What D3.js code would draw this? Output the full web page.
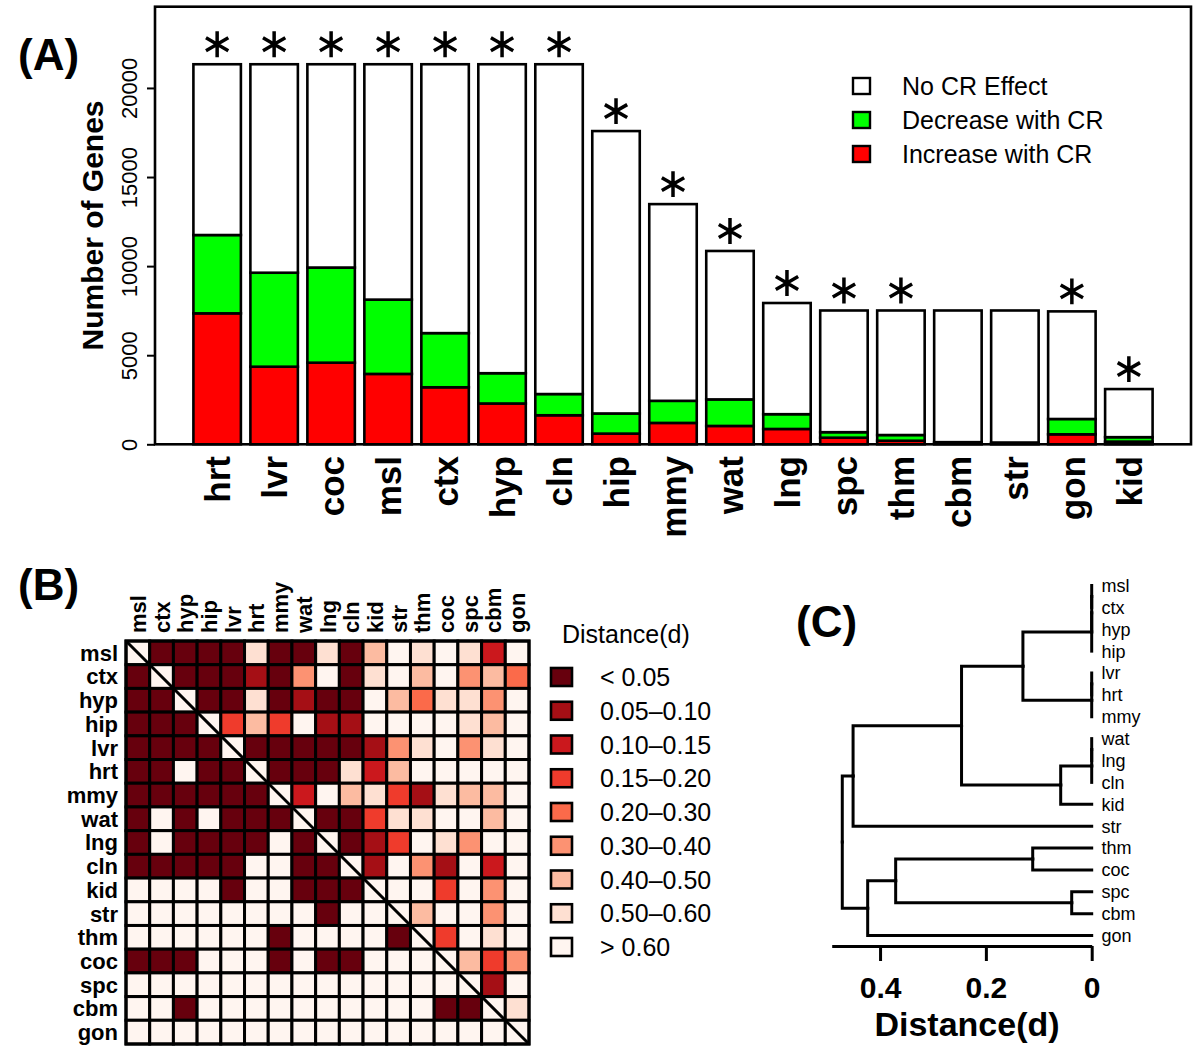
<!DOCTYPE html>
<html><head><meta charset="utf-8">
<script src="https://cdn.jsdelivr.net/npm/d3@7"></script>
<style>
body{margin:0;background:#fff}
svg{display:block}
text{font-family:"Liberation Sans",Arial,Helvetica,sans-serif;fill:#000}
</style>
</head><body>
<svg id="c" width="1200" height="1059"></svg>
<script>
// ---------------- Panel A data ----------------
const barCats = ["hrt","lvr","coc","msl","ctx","hyp","cln","hip","mmy","wat","lng","spc","thm","cbm","str","gon","kid"];
const increaseCR = [7350,4355,4580,3950,3200,2290,1630,600,1200,1030,860,370,200,40,40,560,150];
const decreaseCR = [4395,5275,5340,4170,3040,1700,1190,1130,1240,1490,830,310,320,80,60,860,250];
const noEffectCR = [9585,11700,11410,13210,15090,17340,18510,15850,11040,8330,6240,6830,6990,7390,7410,6040,2700];
const significant = [1,1,1,1,1,1,1,1,1,1,1,1,1,0,0,1,1];
const yTicksA = [0,5000,10000,15000,20000];
const seriesKeys = ["inc","dec","none"];
const seriesNames = ["Increase with CR","Decrease with CR","No CR Effect"];
const seriesColors = ["#FF0000","#00FF00","#FFFFFF"];

// ---------------- Panel B data ----------------
const tissues = ["msl","ctx","hyp","hip","lvr","hrt","mmy","wat","lng","cln","kid","str","thm","coc","spc","cbm","gon"];
// distance bin index per cell (0: <0.05 ... 8: >0.60)
const distBins = [
  [8,0,0,0,0,7,0,0,7,0,6,8,7,8,7,2,8],
  [0,8,0,0,0,1,0,5,8,0,7,8,6,8,5,6,4],
  [0,0,8,0,0,7,0,1,0,0,8,6,4,7,7,5,8],
  [0,0,0,8,3,6,3,8,1,1,8,8,8,8,7,6,8],
  [0,0,0,0,8,0,0,0,0,0,1,5,7,8,5,7,8],
  [0,0,8,0,0,8,0,0,0,7,2,6,8,8,8,8,8],
  [0,0,0,0,0,0,8,2,8,6,7,3,1,7,6,6,8],
  [0,8,0,8,0,0,0,8,0,0,3,7,7,8,8,6,8],
  [0,8,0,0,0,0,8,0,8,0,1,3,8,7,5,8,8],
  [0,0,0,0,0,8,8,0,0,8,1,8,5,1,8,2,8],
  [8,8,8,8,0,8,8,0,0,0,8,8,8,3,8,5,8],
  [8,8,8,8,8,8,8,8,0,8,8,8,6,8,8,5,8],
  [8,8,8,8,8,8,0,8,8,8,8,0,8,3,8,7,8],
  [0,0,0,8,8,8,0,8,0,0,8,8,8,8,6,3,5],
  [8,8,8,8,8,8,8,8,8,8,8,8,8,8,8,1,8],
  [8,8,0,8,8,8,8,8,8,8,8,8,8,0,0,8,7],
  [8,8,8,8,8,8,8,8,8,8,8,8,8,8,8,8,8]
];
const binColors = ["#67000D","#A50F15","#CB181D","#EF3B2C","#FB6A4A","#FC9272","#FCBBA1","#FEE0D2","#FFF5F0"];
const binLabels = ["< 0.05","0.05\u20130.10","0.10\u20130.15","0.15\u20130.20","0.20\u20130.30","0.30\u20130.40","0.40\u20130.50","0.50\u20130.60","> 0.60"];

// ---------------- Panel C data ----------------
const dendroTree = {h:0.4714, children:[
  {h:0.451, children:[
    {h:0.246, children:[
      {h:0.130, children:[
        {h:0, children:[{h:0, children:[{h:0, children:[{name:"msl"},{name:"ctx"}]},{name:"hyp"}]},{name:"hip"}]},
        {h:0, children:[{h:0, children:[{name:"lvr"},{name:"hrt"}]},{name:"mmy"}]}
      ]},
      {h:0.0586, children:[
        {h:0, children:[{h:0, children:[{name:"wat"},{name:"lng"}]},{name:"cln"}]},
        {name:"kid"}
      ]}
    ]},
    {name:"str"}
  ]},
  {h:0.4234, children:[
    {h:0.3705, children:[
      {h:0.1115, children:[{name:"thm"},{name:"coc"}]},
      {h:0.0378, children:[{name:"spc"},{name:"cbm"}]}
    ]},
    {name:"gon"}
  ]}
]};
const dendroTicks = [0, 0.2, 0.4];

const svg = d3.select("#c");

// ================= Panel A =================
const A = svg.append("g");
const xA = d3.scaleBand().domain(barCats).range([155,1191]).paddingInner(0.2/1.2).paddingOuter(0.674);
const yA = d3.scaleLinear().domain([0,24560]).range([444.3,6.7]);
const rowsA = barCats.map((c,i)=>({cat:c, inc:increaseCR[i], dec:decreaseCR[i], none:noEffectCR[i]}));
const stacked = d3.stack().keys(seriesKeys)(rowsA);
stacked.forEach((s,si)=>{
  A.append("g").selectAll("rect").data(s).join("rect")
    .attr("x", d=>xA(d.data.cat))
    .attr("width", xA.bandwidth())
    .attr("y", d=>yA(d[1]))
    .attr("height", d=>Math.max(0, yA(d[0])-yA(d[1])))
    .attr("fill", seriesColors[si])
    .attr("stroke","#000").attr("stroke-width",2.6);
});
// significance stars
A.append("g").selectAll("path").data(rowsA.filter((d,i)=>significant[i])).join("path")
  .attr("d", d3.symbol(d3.symbolAsterisk).size(470))
  .attr("transform", d=>`translate(${xA(d.cat)+xA.bandwidth()/2},${yA(d.inc+d.dec+d.none)-20})`)
  .attr("fill","none").attr("stroke","#000").attr("stroke-width",3.5);
// frame
A.append("rect").attr("x",155).attr("y",6.7).attr("width",1036).attr("height",437.6)
  .attr("fill","none").attr("stroke","#000").attr("stroke-width",2.6);
// y axis
const axA = A.append("g").attr("transform","translate(155,0)")
  .call(d3.axisLeft(yA).tickValues(yTicksA).tickSize(8).tickFormat(d3.format("d")));
axA.select(".domain").remove();
axA.selectAll(".tick line").attr("stroke","#000").attr("stroke-width",2);
axA.selectAll(".tick text").attr("x",null).attr("dy",null)
  .attr("transform","translate(-18,0) rotate(-90)").attr("text-anchor","middle")
  .style("font-family","'Liberation Sans',Arial,sans-serif").style("font-size","22px");
// x labels
A.append("g").selectAll("text").data(barCats).join("text")
  .attr("transform", d=>`translate(${xA(d)+xA.bandwidth()/2+13},456) rotate(-90)`)
  .attr("text-anchor","end").style("font-size","35px").style("font-weight","bold").text(d=>d);
// axis title
A.append("text").attr("transform","translate(103,225.5) rotate(-90)").attr("text-anchor","middle")
  .style("font-size","30px").style("font-weight","bold").text("Number of Genes");
A.append("text").attr("x",18).attr("y",70).style("font-size","44px").style("font-weight","bold").text("(A)");
// legend A
const legA = [2,1,0];
legA.forEach((si,k)=>{
  const cy = 86 + k*34;
  A.append("rect").attr("x",853).attr("y",cy-8).attr("width",17).attr("height",16)
    .attr("fill",seriesColors[si]).attr("stroke","#000").attr("stroke-width",2.4);
  A.append("text").attr("x",902).attr("y",cy).attr("dy","0.36em").style("font-size","25px").text(seriesNames[si]);
});

// ================= Panel B =================
const B = svg.append("g");
const xB = d3.scaleBand().domain(tissues).range([126,529]);
const yB = d3.scaleBand().domain(tissues).range([641,1044]);
const cells = [];
distBins.forEach((row,ri)=>row.forEach((v,ci)=>cells.push({r:tissues[ri], c:tissues[ci], v})));
B.append("g").selectAll("rect").data(cells).join("rect")
  .attr("x", d=>xB(d.c)).attr("y", d=>yB(d.r))
  .attr("width", xB.bandwidth()).attr("height", yB.bandwidth())
  .attr("fill", d=>binColors[d.v]).attr("stroke","#000").attr("stroke-width",3);
B.append("rect").attr("x",126).attr("y",641).attr("width",403).attr("height",403)
  .attr("fill","none").attr("stroke","#000").attr("stroke-width",3);
B.append("line").attr("x1",126).attr("y1",641).attr("x2",529).attr("y2",1044)
  .attr("stroke","#000").attr("stroke-width",3);
B.append("g").selectAll("text").data(tissues).join("text")
  .attr("x",118).attr("y", d=>yB(d)+yB.bandwidth()/2).attr("dy","0.36em")
  .attr("text-anchor","end").style("font-size","22px").style("font-weight","bold").text(d=>d);
B.append("g").selectAll("text").data(tissues).join("text")
  .attr("transform", d=>`translate(${xB(d)+xB.bandwidth()/2+8},633) rotate(-90)`)
  .attr("text-anchor","start").style("font-size","22px").style("font-weight","bold").text(d=>d);
B.append("text").attr("x",18).attr("y",600).style("font-size","44px").style("font-weight","bold").text("(B)");
// legend B
B.append("text").attr("x",562).attr("y",643).style("font-size","25px").text("Distance(d)");
binLabels.forEach((lab,i)=>{
  const cy = 677 + i*33.75;
  B.append("rect").attr("x",551).attr("y",cy-9).attr("width",21).attr("height",18)
    .attr("fill",binColors[i]).attr("stroke","#000").attr("stroke-width",2.6);
  B.append("text").attr("x",600).attr("y",cy).attr("dy","0.36em").style("font-size","25px").text(lab);
});

// ================= Panel C =================
const C = svg.append("g");
const xC = d3.scaleLinear().domain([0,0.4914]).range([1091.7,831.7]);
const root = d3.hierarchy(dendroTree);
const leafNames = root.leaves().map(d=>d.data.name);
const yLeaf = d3.scalePoint().domain(leafNames).range([585.5,935.5]);
root.eachAfter(n=>{
  n.py = n.children ? d3.mean(n.children, c=>c.py) : yLeaf(n.data.name);
  n.px = xC(n.data.h || 0);
});
C.append("g").selectAll("path").data(root.links()).join("path")
  .attr("d", l=>`M${l.target.px},${l.target.py}H${l.source.px}V${l.source.py}`)
  .attr("fill","none").attr("stroke","#000").attr("stroke-width",3).attr("stroke-linecap","square");
C.append("g").selectAll("text").data(root.leaves()).join("text")
  .attr("x",1101.5).attr("y", d=>d.py).attr("dy","0.36em").style("font-size","18px").text(d=>d.data.name);
const axC = C.append("g").attr("transform","translate(0,946)")
  .call(d3.axisBottom(xC).tickValues(dendroTicks).tickSize(15).tickSizeOuter(0).tickFormat(d=>d===0?"0":d3.format(".1f")(d)));
axC.select(".domain").attr("stroke","#000").attr("stroke-width",3);
axC.selectAll(".tick line").attr("stroke","#000").attr("stroke-width",3);
axC.selectAll(".tick text").attr("y",52).attr("dy",null)
  .style("font-family","'Liberation Sans',Arial,sans-serif").style("font-size","30px").style("font-weight","bold");
C.append("text").attr("x",967).attr("y",1036).attr("text-anchor","middle")
  .style("font-size","34px").style("font-weight","bold").text("Distance(d)");
C.append("text").attr("x",796).attr("y",637).style("font-size","44px").style("font-weight","bold").text("(C)");
</script>
</body></html>
